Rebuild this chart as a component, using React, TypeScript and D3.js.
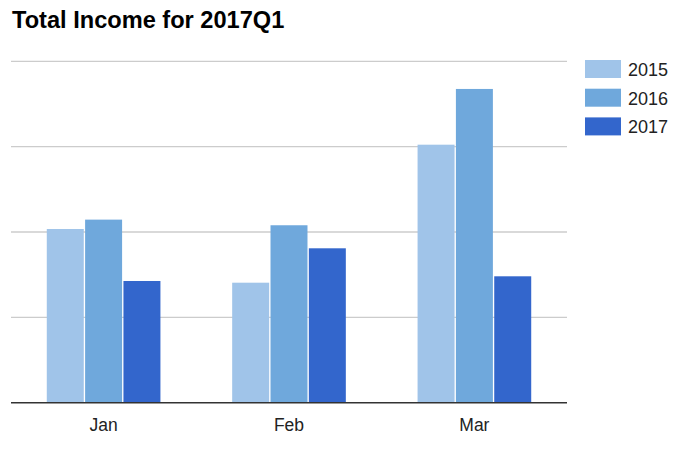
import { useRef, useEffect } from "react";
import * as d3 from "d3";

// ─── Data ─────────────────────────────────────────────────────────────────────

const months = ["Jan", "Feb", "Mar"];
const years = ["2015", "2016", "2017"];
const income2015 = [2035, 1406, 3023];
const income2016 = [2145, 2079, 3676];
const income2017 = [1426, 1809, 1481];
const yTicks = [0, 1000, 2000, 3000, 4000];

const seriesValues = [income2015, income2016, income2017];
const colors = ["#a0c4e9", "#6fa8dc", "#3366cc"];

const W = 696;
const H = 461;
const PLOT = { left: 11, right: 567, top: 61.3, bottom: 402.7 };
const FONT = "'Liberation Sans', Arial, sans-serif";

export default function App() {
  const svgRef = useRef<SVGSVGElement>(null);

  useEffect(() => {
    document.body.style.margin = "0";
    if (!svgRef.current) return;

    const svg = d3.select(svgRef.current);
    svg.selectAll("*").remove();

    // ── Scales ──────────────────────────────────────────────────────────────

    const x0 = d3
      .scaleBand()
      .domain(months)
      .range([PLOT.left, PLOT.right])
      .paddingInner(0.387)
      .paddingOuter(0.193);

    const x1 = d3
      .scaleBand()
      .domain(years)
      .range([0, x0.bandwidth()])
      .paddingInner(0.035);

    const y = d3
      .scaleLinear()
      .domain([0, 4000])
      .range([PLOT.bottom, PLOT.top]);

    // ── Title ───────────────────────────────────────────────────────────────

    svg
      .append("text")
      .attr("x", 12)
      .attr("y", 28.3)
      .attr("font-family", FONT)
      .attr("font-weight", "bold")
      .attr("font-size", 23.6)
      .attr("fill", "#000")
      .text("Total Income for 2017Q1");

    // ── Gridlines ───────────────────────────────────────────────────────────

    svg
      .append("g")
      .selectAll("line")
      .data(yTicks.slice(1))
      .enter()
      .append("line")
      .attr("x1", PLOT.left)
      .attr("x2", PLOT.right)
      .attr("y1", (d) => y(d))
      .attr("y2", (d) => y(d))
      .attr("stroke", "#cccccc")
      .attr("stroke-width", 1.3);

    // ── Bars ────────────────────────────────────────────────────────────────

    const groups = svg
      .append("g")
      .selectAll("g")
      .data(months)
      .enter()
      .append("g")
      .attr("transform", (m) => `translate(${x0(m)},0)`);

    groups
      .selectAll("rect")
      .data((_, mi) => years.map((yr, si) => ({ yr, si, v: seriesValues[si][mi] })))
      .enter()
      .append("rect")
      .attr("x", (d) => x1(d.yr) ?? 0)
      .attr("y", (d) => y(d.v))
      .attr("width", x1.bandwidth())
      .attr("height", (d) => y(0) - y(d.v))
      .attr("fill", (d) => colors[d.si]);

    // ── Baseline ────────────────────────────────────────────────────────────

    svg
      .append("line")
      .attr("x1", PLOT.left)
      .attr("x2", PLOT.right)
      .attr("y1", y(0))
      .attr("y2", y(0))
      .attr("stroke", "#333333")
      .attr("stroke-width", 1.6);

    // ── X labels ────────────────────────────────────────────────────────────

    svg
      .append("g")
      .selectAll("text")
      .data(months)
      .enter()
      .append("text")
      .attr("x", (m) => (x0(m) ?? 0) + x0.bandwidth() / 2)
      .attr("y", 430.5)
      .attr("text-anchor", "middle")
      .attr("font-family", FONT)
      .attr("font-size", 17.5)
      .attr("fill", "#222222")
      .text((m) => m);

    // ── Legend ──────────────────────────────────────────────────────────────

    const legend = svg
      .append("g")
      .selectAll("g")
      .data(years)
      .enter()
      .append("g")
      .attr("transform", (_, i) => `translate(585,${60 + i * 28.7})`);

    legend
      .append("rect")
      .attr("width", 36)
      .attr("height", 18)
      .attr("fill", (_, i) => colors[i]);

    legend
      .append("text")
      .attr("x", 43)
      .attr("y", 16)
      .attr("font-family", FONT)
      .attr("font-size", 18)
      .attr("fill", "#222222")
      .text((d) => d);
  }, []);

  return <svg ref={svgRef} width={W} height={H} style={{ display: "block", background: "#fff" }} />;
}
